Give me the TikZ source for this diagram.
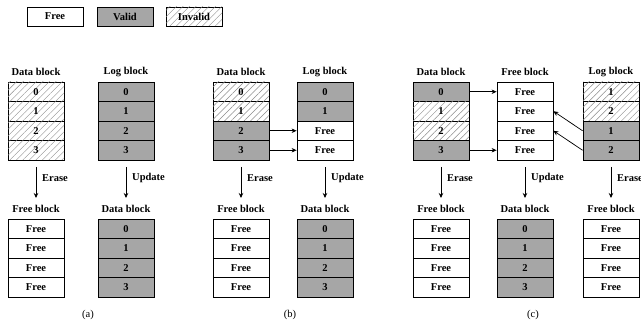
\documentclass[tikz,border=0pt]{standalone}
\usepackage{fontspec}
\setmainfont{Liberation Serif}
\usetikzlibrary{arrows.meta,patterns.meta}

\definecolor{validgray}{HTML}{A6A6A6}
\definecolor{hatchgray}{HTML}{8C8C8C}

\tikzset{
  cell/.style={draw=black, line width=0.8pt, minimum width=56pt, minimum height=19.5pt,
               inner sep=0pt, font=\fontsize{10.5}{12}\selectfont\bfseries},
  freecell/.style={cell, fill=white},
  validcell/.style={cell, fill=validgray},
  invalidcell/.style={cell, fill=white,
    postaction={pattern={Lines[angle=45, distance=4.6pt, line width=0.45pt]}, pattern color=hatchgray}},
  title/.style={font=\fontsize{10.5}{12}\selectfont\bfseries, inner sep=0pt},
  oplabel/.style={font=\fontsize{10.5}{12}\selectfont\bfseries, anchor=west, inner sep=0pt},
  caption/.style={font=\fontsize{10.5}{12}\selectfont, inner sep=0pt},
  flow/.style={-{Stealth[length=5pt, width=4.5pt]}, line width=0.7pt, black},
}

\begin{document}
\begin{tikzpicture}[x=1pt, y=-1pt]
\path[use as bounding box, clip] (0,0) rectangle (641,326);

% legend
\node[freecell, minimum height=19pt] (lgfree) at (55,16.5) {Free};
\node[validcell, minimum height=19pt] (lgvalid) at (125,16.5) {Valid};
\node[invalidcell, minimum height=19pt] (lginvalid) at (194,16.5) {Invalid};

% ---------------- (a) ----------------
\node[title] (aT1) at (36,72) {Data block};
\node[invalidcell] (aD0) at (36,91.75) {0};
\node[invalidcell] (aD1) at (36,111.25) {1};
\node[invalidcell] (aD2) at (36,130.75) {2};
\node[invalidcell] (aD3) at (36,150.25) {3};

\node[title] (aT2) at (126,72) {Log block};
\node[validcell] (aL0) at (126,91.75) {0};
\node[validcell] (aL1) at (126,111.25) {1};
\node[validcell] (aL2) at (126,130.75) {2};
\node[validcell] (aL3) at (126,150.25) {3};

\coordinate (aE1s) at (36,167); \coordinate (aE1e) at (36,198);
\draw[flow] (aE1s) -- (aE1e);
\node[oplabel] (aE1) at (42,178) {Erase};
\coordinate (aU1s) at (126,167); \coordinate (aU1e) at (126,198);
\draw[flow] (aU1s) -- (aU1e);
\node[oplabel] (aU1) at (132,178) {Update};

\node[title] (aB1) at (36,209) {Free block};
\node[freecell] (aF0) at (36,228.75) {Free};
\node[freecell] (aF1) at (36,248.25) {Free};
\node[freecell] (aF2) at (36,267.75) {Free};
\node[freecell] (aF3) at (36,287.25) {Free};

\node[title] (aB2) at (126,209) {Data block};
\node[validcell] (aN0) at (126,228.75) {0};
\node[validcell] (aN1) at (126,248.25) {1};
\node[validcell] (aN2) at (126,267.75) {2};
\node[validcell] (aN3) at (126,287.25) {3};

\node[caption] (capa) at (88,315) {(a)};

% ---------------- (b) ----------------
\node[title] (bT1) at (241,72) {Data block};
\node[invalidcell] (bD0) at (241,91.75) {0};
\node[invalidcell] (bD1) at (241,111.25) {1};
\node[validcell] (bD2) at (241,130.75) {2};
\node[validcell] (bD3) at (241,150.25) {3};

\node[title] (bT2) at (325,72) {Log block};
\node[validcell] (bL0) at (325,91.75) {0};
\node[validcell] (bL1) at (325,111.25) {1};
\node[freecell] (bL2) at (325,130.75) {Free};
\node[freecell] (bL3) at (325,150.25) {Free};

\draw[flow] (bD2.east) -- (bL2.west);
\draw[flow] (bD3.east) -- (bL3.west);

\coordinate (bE1s) at (241,167); \coordinate (bE1e) at (241,198);
\draw[flow] (bE1s) -- (bE1e);
\node[oplabel] (bE1) at (247,178) {Erase};
\coordinate (bU1s) at (325,167); \coordinate (bU1e) at (325,198);
\draw[flow] (bU1s) -- (bU1e);
\node[oplabel] (bU1) at (331,178) {Update};

\node[title] (bB1) at (241,209) {Free block};
\node[freecell] (bF0) at (241,228.75) {Free};
\node[freecell] (bF1) at (241,248.25) {Free};
\node[freecell] (bF2) at (241,267.75) {Free};
\node[freecell] (bF3) at (241,287.25) {Free};

\node[title] (bB2) at (325,209) {Data block};
\node[validcell] (bN0) at (325,228.75) {0};
\node[validcell] (bN1) at (325,248.25) {1};
\node[validcell] (bN2) at (325,267.75) {2};
\node[validcell] (bN3) at (325,287.25) {3};

\node[caption] (capb) at (290,315) {(b)};

% ---------------- (c) ----------------
\node[title] (cT1) at (441,72) {Data block};
\node[validcell] (cD0) at (441,91.75) {0};
\node[invalidcell] (cD1) at (441,111.25) {1};
\node[invalidcell] (cD2) at (441,130.75) {2};
\node[validcell] (cD3) at (441,150.25) {3};

\node[title] (cT2) at (525,72) {Free block};
\node[freecell] (cM0) at (525,91.75) {Free};
\node[freecell] (cM1) at (525,111.25) {Free};
\node[freecell] (cM2) at (525,130.75) {Free};
\node[freecell] (cM3) at (525,150.25) {Free};

\node[title] (cT3) at (611,72) {Log block};
\node[invalidcell] (cL0) at (611,91.75) {1};
\node[invalidcell] (cL1) at (611,111.25) {2};
\node[validcell] (cL2) at (611,130.75) {1};
\node[validcell] (cL3) at (611,150.25) {2};

\draw[flow] (cD0.east) -- (cM0.west);
\draw[flow] (cD3.east) -- (cM3.west);
\draw[flow] (cL2.west) -- (cM1.east);
\draw[flow] (cL3.west) -- (cM2.east);

\coordinate (cE1s) at (441,167); \coordinate (cE1e) at (441,198);
\draw[flow] (cE1s) -- (cE1e);
\node[oplabel] (cE1) at (447,178) {Erase};
\coordinate (cU1s) at (525,167); \coordinate (cU1e) at (525,198);
\draw[flow] (cU1s) -- (cU1e);
\node[oplabel] (cU1) at (531,178) {Update};
\coordinate (cE2s) at (611,167); \coordinate (cE2e) at (611,198);
\draw[flow] (cE2s) -- (cE2e);
\node[oplabel] (cE2) at (617,178) {Erase};

\node[title] (cB1) at (441,209) {Free block};
\node[freecell] (cF0) at (441,228.75) {Free};
\node[freecell] (cF1) at (441,248.25) {Free};
\node[freecell] (cF2) at (441,267.75) {Free};
\node[freecell] (cF3) at (441,287.25) {Free};

\node[title] (cB2) at (525,209) {Data block};
\node[validcell] (cN0) at (525,228.75) {0};
\node[validcell] (cN1) at (525,248.25) {1};
\node[validcell] (cN2) at (525,267.75) {2};
\node[validcell] (cN3) at (525,287.25) {3};

\node[title] (cB3) at (611,209) {Free block};
\node[freecell] (cG0) at (611,228.75) {Free};
\node[freecell] (cG1) at (611,248.25) {Free};
\node[freecell] (cG2) at (611,267.75) {Free};
\node[freecell] (cG3) at (611,287.25) {Free};

\node[caption] (capc) at (533,315) {(c)};
\end{tikzpicture}
\end{document}
